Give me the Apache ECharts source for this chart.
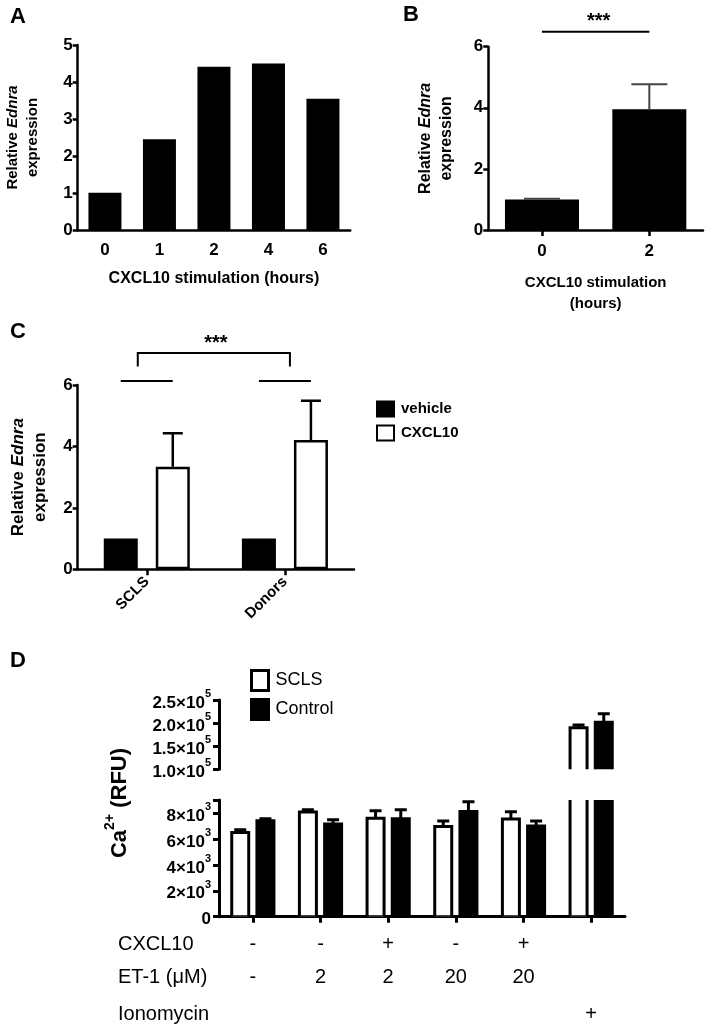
<!DOCTYPE html>
<html><head><meta charset="utf-8">
<script src="https://cdn.jsdelivr.net/npm/echarts@6/dist/echarts.min.js"></script>
<style>html,body{margin:0;padding:0;background:#fff}#c{width:707px;height:1030px}</style>
</head><body><div id="c"></div>
<script>
// ---------- Panel A ----------
const aCategories = ['0', '1', '2', '4', '6'];
const aValues = [1.01, 2.45, 4.41, 4.5, 3.55];
// ---------- Panel B ----------
const bCategories = ['0', '2'];
const bValues = [1.0, 3.95];
const bErrors = [0.02, 0.82];
const bSig = [0, 1, 6.49];
// ---------- Panel C ----------
const cCategories = ['SCLS', 'Donors'];
const cVehicle = [1.0, 1.0];
const cCxcl10 = [3.34, 4.21];
const cCxcl10Err = [1.09, 1.28];
const cSigShortY = 6.13;
const cBracket = [0, 1, 7.04, 6.6];
// ---------- Panel D ----------
const dCategories = ['c1', 'c2', 'c3', 'c4', 'c5', 'c6'];
const dSCLS = [6500, 8080, 7600, 6950, 7530, 190000];
const dSCLSErr = [200, 170, 580, 440, 570, 6000];
const dControl = [7400, 7150, 7560, 8120, 7000, 202000];
const dControlErr = [150, 330, 690, 750, 380, 18000];
const dRowLabels = ['CXCL10', 'ET-1 (\u03bcM)', 'Ionomycin'];
const dRowCxcl10 = ['-', '-', '+', '-', '+', ''];
const dRowEt1 = ['-', '2', '2', '20', '20', ''];
const dRowIono = ['', '', '', '', '', '+'];

const FF = '"Liberation Sans", Arial, Helvetica, sans-serif';
const chart = echarts.init(document.getElementById('c'), null, {renderer: 'canvas'});

function line(w) { return {show: true, onZero: true, lineStyle: {color: '#000', width: w}}; }
function tick(show, len, w) { return {show: show, length: len, alignWithLabel: true, lineStyle: {color: '#000', width: w}}; }
function lab(size, weight, margin) { return {color: '#000', fontFamily: FF, fontSize: size, fontWeight: weight, margin: margin}; }
function ylabelName(size) {
  return {
    name: '{n|Relative }{i|Ednra}\n{n|expression}',
    nameLocation: 'middle', nameRotate: 90,
    nameTextStyle: {color: '#000', fontFamily: FF, fontSize: size, fontWeight: 'bold', lineHeight: size + 5,
      rich: {n: {fontFamily: FF, fontSize: size, fontWeight: 'bold', color: '#000', align: 'center', lineHeight: size + 5},
             i: {fontFamily: FF, fontSize: size, fontWeight: 'bold', fontStyle: 'italic', color: '#000', align: 'center', lineHeight: size + 5}}}
  };
}

function errSeries(xi, yi, values, errs, offset, capHalf, lw, color) {
  return {
    type: 'custom', xAxisIndex: xi, yAxisIndex: yi, clip: true, silent: true, z: 5,
    encode: {x: 0, y: 1},
    data: values.map((v, i) => [i, v, v + errs[i]]),
    renderItem: function (params, api) {
      const i = api.value(0);
      const b = api.coord([i, api.value(1)]);
      const t = api.coord([i, api.value(2)]);
      const x = b[0] + offset;
      return {type: 'group', children: [
        {type: 'line', shape: {x1: x, y1: b[1], x2: x, y2: t[1]}, style: {stroke: color, lineWidth: lw}},
        {type: 'line', shape: {x1: x - capHalf, y1: t[1], x2: x + capHalf, y2: t[1]}, style: {stroke: color, lineWidth: lw}}
      ]};
    }
  };
}

function dBarSeries(name, xi, yi, values, offset, fill) {
  return {
    type: 'custom', name: name, xAxisIndex: xi, yAxisIndex: yi, clip: true,
    encode: {x: 0, y: 1},
    itemStyle: {color: fill, borderColor: '#000', borderWidth: 3},
    data: values.map((v, i) => [i, v]),
    renderItem: function (params, api) {
      const i = api.value(0);
      const t = api.coord([i, api.value(1)]);
      const b = api.coord([i, 0]);
      const x = t[0] + offset - 8.5;
      return {type: 'rect', shape: {x: x, y: t[1], width: 17, height: b[1] - t[1]},
        style: {fill: fill, stroke: '#000', lineWidth: 3}};
    }
  };
}

const supRich = {
  m: {fontFamily: FF, fontSize: 17, fontWeight: 'bold', color: '#000', lineHeight: 23, verticalAlign: 'bottom'},
  s: {fontFamily: FF, fontSize: 11, fontWeight: 'bold', color: '#000', lineHeight: 11, verticalAlign: 'top'}
};

function tableAxis(data, label, offset) {
  return {
    type: 'category', gridIndex: 4, position: 'bottom', offset: offset, data: data,
    axisLine: {show: false, onZero: false}, axisTick: {show: false}, splitLine: {show: false},
    axisLabel: {color: '#000', fontFamily: FF, fontSize: 20, margin: 0, verticalAlign: 'middle', interval: 0},
    name: label, nameLocation: 'start', nameGap: 101,
    nameTextStyle: {color: '#000', fontFamily: FF, fontSize: 20, align: 'left', verticalAlign: 'middle'}
  };
}

const option = {
  animation: false,
  backgroundColor: '#fff',
  textStyle: {fontFamily: FF},
  grid: [
    {left: 77.7, top: 45, width: 272.5, height: 185, outerBoundsMode: 'none', containLabel: false},
    {left: 488.3, top: 46.7, width: 214.7, height: 183.3, outerBoundsMode: 'none', containLabel: false},
    {left: 77.7, top: 385, width: 276.3, height: 184.3, outerBoundsMode: 'none', containLabel: false},
    {left: 219, top: 700, width: 406, height: 69.3, outerBoundsMode: 'none', containLabel: false},
    {left: 219, top: 800, width: 406, height: 116.7, outerBoundsMode: 'none', containLabel: false}
  ],
  xAxis: [
    {type: 'category', gridIndex: 0, data: aCategories, axisLine: line(2.5), axisTick: tick(false, 5, 2.5),
     axisLabel: lab(17, 'bold', 12), name: 'CXCL10 stimulation (hours)', nameLocation: 'middle', nameGap: 41,
     nameTextStyle: {color: '#000', fontFamily: FF, fontSize: 16, fontWeight: 'bold'}},
    {type: 'category', gridIndex: 1, data: bCategories, axisLine: line(2.5), axisTick: tick(true, 6, 2.5),
     axisLabel: lab(17, 'bold', 13), name: 'CXCL10 stimulation\n(hours)', nameLocation: 'middle', nameGap: 42,
     nameTextStyle: {color: '#000', fontFamily: FF, fontSize: 15, fontWeight: 'bold', lineHeight: 21}},
    {type: 'category', gridIndex: 2, data: cCategories, axisLine: line(2.5), axisTick: tick(true, 6, 2.5),
     axisLabel: Object.assign(lab(15, 'bold', 10), {rotate: 45, interval: 0})},
    {type: 'category', gridIndex: 3, data: dCategories, show: false},
    {type: 'category', gridIndex: 4, data: dCategories, position: 'bottom', axisLine: line(3), axisTick: tick(true, 6, 3),
     axisLabel: {show: false}},
    tableAxis(dRowCxcl10, dRowLabels[0], 27.5),
    tableAxis(dRowEt1, dRowLabels[1], 60.5),
    tableAxis(dRowIono, dRowLabels[2], 97.5)
  ],
  yAxis: [
    Object.assign({type: 'value', gridIndex: 0, min: 0, max: 5, interval: 1, axisLine: line(2.5), axisTick: {show: true, length: 5, lineStyle: {color: '#000', width: 2.5}},
     axisLabel: lab(17, 'bold', 5), splitLine: {show: false}, nameGap: 35}, ylabelName(15)),
    Object.assign({type: 'value', gridIndex: 1, min: 0, max: 6, interval: 2, axisLine: line(2.5), axisTick: {show: true, length: 5, lineStyle: {color: '#000', width: 2.5}},
     axisLabel: lab(17, 'bold', 5), splitLine: {show: false}, nameGap: 31}, ylabelName(16)),
    Object.assign({type: 'value', gridIndex: 2, min: 0, max: 6, interval: 2, axisLine: line(2.5), axisTick: {show: true, length: 5, lineStyle: {color: '#000', width: 2.5}},
     axisLabel: lab(17, 'bold', 5), splitLine: {show: false}, nameGap: 26}, ylabelName(17)),
    {type: 'value', gridIndex: 3, min: 100000, max: 250000, interval: 50000, axisLine: line(3),
     axisTick: {show: true, length: 6, lineStyle: {color: '#000', width: 3}}, splitLine: {show: false},
     axisLabel: {margin: 8, rich: supRich, formatter: v => '{m|' + (v / 100000).toFixed(1) + '\u00d710}{s|5}'}},
    {type: 'value', gridIndex: 4, min: 0, max: 9000, interval: 2000, axisLine: line(3),
     axisTick: {show: true, length: 6, lineStyle: {color: '#000', width: 3}}, splitLine: {show: false},
     axisLabel: {margin: 8, rich: supRich, formatter: v => v === 0 ? '{m|0}' : (v > 8000 ? '' : '{m|' + (v / 1000) + '\u00d710}{s|3}')}}
  ],
  legend: [
    {orient: 'vertical', left: 371, top: 395.5, itemWidth: 17, itemHeight: 15, itemGap: 7, icon: 'rect',
     data: ['vehicle', 'CXCL10'], selectedMode: false,
     textStyle: {color: '#000', fontFamily: FF, fontSize: 15, fontWeight: 'bold', padding: [0, 0, 0, 2]}},
    {orient: 'vertical', left: 245, top: 664, itemWidth: 17, itemHeight: 20, itemGap: 6, icon: 'rect', selectedMode: false,
     data: [{name: 'SCLS', itemStyle: {color: '#fff', borderColor: '#000', borderWidth: 3}},
            {name: 'Control', itemStyle: {color: '#000', borderColor: '#000', borderWidth: 3}}],
     textStyle: {color: '#000', fontFamily: FF, fontSize: 18, padding: [0, 0, 0, 2]}}
  ],
  series: [
    {type: 'bar', xAxisIndex: 0, yAxisIndex: 0, data: aValues, barWidth: 33, itemStyle: {color: '#000'}},
    {type: 'bar', xAxisIndex: 1, yAxisIndex: 1, data: bValues, barWidth: 74, itemStyle: {color: '#000'}},
    errSeries(1, 1, bValues, bErrors, 0, 18, 2, '#444'),
    {type: 'custom', xAxisIndex: 1, yAxisIndex: 1, clip: false, silent: true, encode: {x: 0, y: 2},
     data: [bSig], renderItem: function (params, api) {
       const p0 = api.coord([api.value(0), api.value(2)]);
       const p1 = api.coord([api.value(1), api.value(2)]);
       return {type: 'group', children: [
         {type: 'line', shape: {x1: p0[0], y1: p0[1], x2: p1[0], y2: p1[1]}, style: {stroke: '#000', lineWidth: 2}},
         {type: 'text', x: (p0[0] + p1[0]) / 2 + 3, y: p0[1] - 10, style: {text: '***', align: 'center', verticalAlign: 'middle', fontFamily: FF, fontSize: 20, fontWeight: 'bold', fill: '#000'}}
       ]};
     }},
    {type: 'bar', name: 'vehicle', xAxisIndex: 2, yAxisIndex: 2, data: cVehicle, barWidth: 34, barGap: '53%',
     itemStyle: {color: '#000', borderColor: '#000', borderWidth: 2.5}},
    {type: 'bar', name: 'CXCL10', xAxisIndex: 2, yAxisIndex: 2, data: cCxcl10, barWidth: 34, barGap: '53%',
     itemStyle: {color: '#fff', borderColor: '#000', borderWidth: 2.5}},
    errSeries(2, 2, cCxcl10, cCxcl10Err, 26, 10, 2.5, '#000'),
    {type: 'custom', xAxisIndex: 2, yAxisIndex: 2, clip: false, silent: true, encode: {x: 0, y: 1},
     data: cCategories.map((c, i) => [i, cSigShortY]), renderItem: function (params, api) {
       const p = api.coord([api.value(0), api.value(1)]);
       return {type: 'line', shape: {x1: p[0] - 26, y1: p[1], x2: p[0] + 26, y2: p[1]}, style: {stroke: '#000', lineWidth: 2}};
     }},
    {type: 'custom', xAxisIndex: 2, yAxisIndex: 2, clip: false, silent: true, encode: {x: 0, y: 2},
     data: [cBracket], renderItem: function (params, api) {
       const a = api.coord([api.value(0), api.value(2)]);
       const b = api.coord([api.value(1), api.value(2)]);
       const leg = api.coord([api.value(0), api.value(3)]);
       const x0 = a[0] - 9, x1 = b[0] + 5;
       return {type: 'group', children: [
         {type: 'polyline', shape: {points: [[x0, leg[1]], [x0, a[1]], [x1, b[1]], [x1, leg[1]]]}, style: {stroke: '#000', lineWidth: 2, fill: null}},
         {type: 'text', x: (x0 + x1) / 2 + 2, y: a[1] - 10, style: {text: '***', align: 'center', verticalAlign: 'middle', fontFamily: FF, fontSize: 20, fontWeight: 'bold', fill: '#000'}}
       ]};
     }},
    dBarSeries('SCLS', 3, 3, dSCLS, -12.6, '#fff'),
    dBarSeries('Control', 3, 3, dControl, 12.6, '#000'),
    dBarSeries('SCLS', 4, 4, dSCLS, -12.6, '#fff'),
    dBarSeries('Control', 4, 4, dControl, 12.6, '#000'),
    errSeries(3, 3, dSCLS, dSCLSErr, -12.6, 6, 3, '#000'),
    errSeries(3, 3, dControl, dControlErr, 12.6, 6, 3, '#000'),
    errSeries(4, 4, dSCLS, dSCLSErr, -12.6, 6, 3, '#000'),
    errSeries(4, 4, dControl, dControlErr, 12.6, 6, 3, '#000')
  ],
  graphic: [
    {type: 'text', x: 10, y: 17, style: {text: 'A', fontFamily: FF, fontSize: 22, fontWeight: 'bold', fill: '#000', verticalAlign: 'middle'}},
    {type: 'text', x: 403, y: 15, style: {text: 'B', fontFamily: FF, fontSize: 22, fontWeight: 'bold', fill: '#000', verticalAlign: 'middle'}},
    {type: 'text', x: 10, y: 332, style: {text: 'C', fontFamily: FF, fontSize: 22, fontWeight: 'bold', fill: '#000', verticalAlign: 'middle'}},
    {type: 'text', x: 10, y: 661, style: {text: 'D', fontFamily: FF, fontSize: 22, fontWeight: 'bold', fill: '#000', verticalAlign: 'middle'}},
    {type: 'text', x: 117, y: 803, rotation: Math.PI / 2,
     style: {text: '{a|Ca}{s|2+}{a| (RFU)}', align: 'center', verticalAlign: 'middle',
       rich: {a: {fontFamily: FF, fontSize: 22, fontWeight: 'bold', fill: '#000', lineHeight: 28, verticalAlign: 'bottom'},
              s: {fontFamily: FF, fontSize: 14, fontWeight: 'bold', fill: '#000', lineHeight: 14, verticalAlign: 'top'}}}}
  ]
};
chart.setOption(option);
</script>
</body></html>
